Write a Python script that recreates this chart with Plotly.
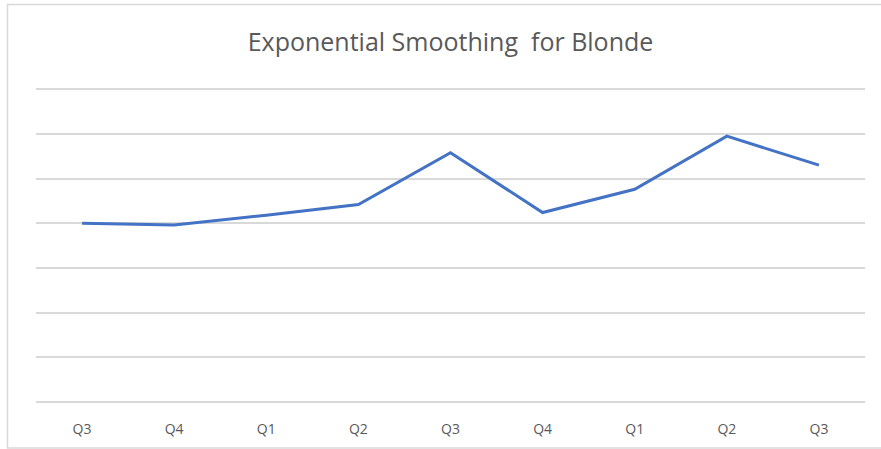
import plotly.graph_objects as go

quarters = ["Q3", "Q4", "Q1", "Q2", "Q3", "Q4", "Q1", "Q2", "Q3"]
smoothed = [40.0, 39.6, 41.8, 44.2, 55.8, 42.4, 47.6, 59.5, 53.0]
positions = list(range(len(quarters)))

fig = go.Figure()
fig.add_trace(go.Scatter(
    x=positions, y=smoothed, mode="lines",
    line=dict(color="#4472C4", width=3),
    showlegend=False, hoverinfo="skip"))

fig.update_layout(
    width=881, height=449,
    margin=dict(l=36, r=16, t=87, b=47),
    paper_bgcolor="white", plot_bgcolor="white",
    title=dict(text="Exponential Smoothing  for Blonde", x=0.5, xref="paper",
               xanchor="center", y=1 - 42 / 449, yanchor="middle",
               font=dict(family="Open Sans", size=25, color="#595959")),
    xaxis=dict(range=[-0.5, 8.5], tickmode="array", tickvals=positions,
               ticktext=quarters, showgrid=False, zeroline=False,
               showline=False, ticks="", ticklen=0, ticklabelstandoff=17,
               tickfont=dict(family="Open Sans", size=14, color="#595959")),
    yaxis=dict(range=[0, 70.5], tickmode="array",
               tickvals=[0, 10, 20, 30, 40, 50, 60, 70], showticklabels=False,
               showgrid=True, gridcolor="#d9d9d9", gridwidth=1.5,
               zeroline=True, zerolinecolor="#d9d9d9", zerolinewidth=1.5,
               showline=False, ticks=""),
    shapes=[dict(type="rect", xref="paper", yref="paper",
                 x0=(7.5 - 36) / 829, x1=(890 - 36) / 829,
                 y0=(402 - 448) / 315, y1=(402 - 4.5) / 315,
                 line=dict(color="#d9d9d9", width=1.5), layer="below")],
)

fig.write_html("out.html")
